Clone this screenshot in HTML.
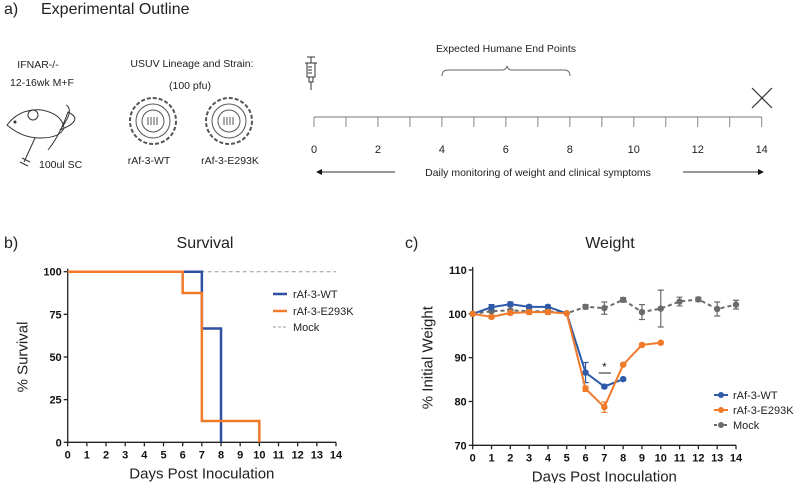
<!DOCTYPE html>
<html><head><meta charset="utf-8"><style>
body{margin:0;background:#fff;}
svg{display:block;font-family:"Liberation Sans",Arial,sans-serif;}
.t{font-family:"Liberation Sans",Arial,sans-serif;}
</style></head><body>
<svg id="fig" width="800" height="483" viewBox="0 0 800 483" xmlns="http://www.w3.org/2000/svg">
<g>
<text x="4" y="14" font-size="16" class="t" fill="#222">a)</text>
<text x="41" y="14" font-size="16" class="t" fill="#222">Experimental Outline</text>
<text x="38" y="68" font-size="10.5" class="t" text-anchor="middle" fill="#222">IFNAR-/-</text>
<text x="42" y="86" font-size="10.5" class="t" text-anchor="middle" fill="#222">12-16wk M+F</text>
<g fill="none" stroke="#333" stroke-width="1">
<path d="M7 125 Q20 108 42 110 Q62 114 64 128 Q60 138 40 138 Q22 138 7 125 Z"/>
<circle cx="33" cy="115" r="5"/>
<circle cx="15" cy="122" r="1" fill="#333"/>
<path d="M60 130 Q75 110 66 105 M60 130 Q85 120 68 112 Q60 135 48 150"/>
</g>
<g stroke="#333" fill="none">
<path d="M35 138 L24 162 M22 158 L30 162 M20 162 L28 166"/>
</g>
<text x="39" y="168" font-size="10.5" class="t" fill="#222">100ul SC</text>
<text x="192" y="67" font-size="10.5" class="t" text-anchor="middle" fill="#222">USUV Lineage and Strain:</text>
<text x="190" y="89" font-size="10.5" class="t" text-anchor="middle" fill="#222">(100 pfu)</text>
<g fill="none" stroke="#555">
<circle cx="153" cy="121" r="23" stroke-dasharray="4 2" stroke-width="2"/><circle cx="153" cy="121" r="17"/><circle cx="153" cy="121" r="11"/><path d="M148 125 v-8 M151 125 v-8 M154 125 v-8 M157 125 v-8"/></g>
<g fill="none" stroke="#555">
<circle cx="229" cy="121" r="23" stroke-dasharray="4 2" stroke-width="2"/><circle cx="229" cy="121" r="17"/><circle cx="229" cy="121" r="11"/><path d="M224 125 v-8 M227 125 v-8 M230 125 v-8 M233 125 v-8"/></g>
<text x="149" y="164" font-size="10.5" class="t" text-anchor="middle" fill="#222">rAf-3-WT</text>
<text x="230" y="164" font-size="10.5" class="t" text-anchor="middle" fill="#222">rAf-3-E293K</text>
<g stroke="#333" fill="none"><path d="M307 57 h8 M311 57 v6 M305 63 h12 M307 63 v14 h8 v-14 M309 77 v5 h4 v-5 M311 82 v8 M308 67 h4 M308 70 h4 M308 73 h4"/></g>
<g stroke="#333" stroke-width="1.2"><path d="M752 88 L772 108 M772 88 L752 108"/></g>
<text x="506" y="52" font-size="10.5" class="t" text-anchor="middle" fill="#222">Expected Humane End Points</text>
<path d="M442 76 Q442 70 448 70 L502 70 Q506 70 507 66 Q508 70 512 70 L564 70 Q570 70 570 76" fill="none" stroke="#666"/>
<g id="timeline"></g>
<text x="538" y="176" font-size="10.5" class="t" text-anchor="middle" fill="#222">Daily monitoring of weight and clinical symptoms</text>
<path d="M318 172 H395 M683 172 H760" stroke="#333"/>
<path d="M316 172 l6 -3 v6 z M764 172 l-6 -3 v6 z" fill="#111"/>
</g>
<text x="4" y="248" font-size="16" class="t" fill="#222">b)</text>
<text x="205" y="248" font-size="16" class="t" text-anchor="middle" fill="#222">Survival</text>
<text x="405" y="248" font-size="16" class="t" fill="#222">c)</text>
<text x="610" y="248" font-size="16" class="t" text-anchor="middle" fill="#222">Weight</text>
<g id="surv"></g>
<g id="wt"></g>
</svg>
<script>
const NS="http://www.w3.org/2000/svg";
const days=[0,1,2,3,4,5,6,7,8,9,10,11,12,13,14];
const survTicks=[0,25,50,75,100];
const survWTx=[0,7,7,8,8];
const survWTy=[100,100,66.7,66.7,0];
const survEx=[0,6,6,7,7,10,10];
const survEy=[100,100,87.5,87.5,12.5,12.5,0];
const survMockX=[0,14];
const survMockY=[100,100];
const wTicks=[70,80,90,100,110];
const wtDays=[0,1,2,3,4,5,6,7,8];
const wtVals=[100,101.5,102.2,101.6,101.6,100.1,86.6,83.4,85.1];
const wtErr=[0,0.6,0.5,0.4,0.4,0,2.3,0.4,0.3];
const eDays=[0,1,2,3,4,5,6,7,8,9,10];
const eVals=[100,99.3,100.2,100.4,100.4,100.1,82.9,78.7,88.4,92.9,93.4];
const eErr=[0,0.4,0.4,0.5,0.5,0,0.6,1.2,0.3,0.3,0.3];
const mDays=[0,1,2,3,4,5,6,7,8,9,10,11,12,13,14];
const mVals=[100,100.6,100.8,100.6,100.6,100.1,101.6,101.3,103.2,100.4,101.2,102.8,103.3,101.1,102.1];
const mErr=[0,0.3,0.3,0.3,0.3,0,0.5,1.4,0.5,1.7,4.2,1.0,0.5,1.6,1.0];
const tlDays=[0,1,2,3,4,5,6,7,8,9,10,11,12,13,14];
const tlLabels=[0,2,4,6,8,10,12,14];

function mk(p,tag,a,txt){const e=document.createElementNS(NS,tag);for(const k in a)e.setAttribute(k,a[k]);if(txt!==undefined)e.textContent=txt;p.appendChild(e);return e;}

const tl=document.getElementById('timeline');
const tx=d=>314+d*(761.7-314)/14;
let e=mk(tl,'line',{x1:tx(0),x2:tx(14),y1:117,y2:117,stroke:'#777','stroke-width':1});


tlDays.forEach(d=>{const t=mk(tl,'line',{x1:tx(d),x2:tx(d),y1:117,y2:127,stroke:'#888','stroke-width':1});

});
tlLabels.forEach(d=>{const t=mk(tl,'text',{x:tx(d),y:153,'font-size':11,'text-anchor':'middle',fill:'#222',class:'t'},String(d));

});

function axes(g,x0,x1,y0,y1,ymin,ymax,ticks,ytitle,name){
  const X=d=>x0+d*(x1-x0)/14, Y=v=>y1-(v-ymin)*(y1-y0)/(ymax-ymin);
  let a=mk(g,'path',{d:`M${x0} ${y0-3} V${y1} H${x1}`,fill:'none',stroke:'#222','stroke-width':1.3});
  
  
  ticks.forEach(v=>{mk(g,'line',{x1:x0-4,x2:x0,y1:Y(v),y2:Y(v),stroke:'#222','stroke-width':1.3});
    const t=mk(g,'text',{x:x0-6,y:Y(v)+4,'font-size':11,'font-weight':'bold','text-anchor':'end',fill:'#111'},String(v));
    
    });
  days.forEach(d=>{mk(g,'line',{x1:X(d),x2:X(d),y1:y1,y2:y1+4,stroke:'#222','stroke-width':1.3});
    const t=mk(g,'text',{x:X(d),y:y1+16,'font-size':11,'font-weight':'bold','text-anchor':'middle',fill:'#111'},String(d));
    
    });
  let xt=mk(g,'text',{x:(x0+x1)/2,y:y1+36,'font-size':15,'text-anchor':'middle',fill:'#222',class:'t'},'Days Post Inoculation');
  
  
  const cy=(y0+y1)/2;
  let yt=mk(g,'text',{x:x0-40,y:cy,'font-size':15,'text-anchor':'middle',fill:'#222',class:'t',transform:`rotate(-90 ${x0-40} ${cy})`},ytitle);
  
  
  return [X,Y];
}
const sg=document.getElementById('surv');
const [SX,SY]=axes(sg,67.7,336,271.7,442.3,0,100,survTicks,'% Survival','survival');
function step(xs,ys,col,nm,dash){const d=xs.map((x,i)=>(i?'L':'M')+SX(x)+' '+SY(ys[i])).join(' ');
  const p=mk(sg,'path',{d:d,fill:'none',stroke:col,'stroke-width':dash?1:2.5,'stroke-dasharray':dash?'4 3':'none'});
  
  }
step(survMockX,survMockY,'#999','survival-mock-line',true);
step(survWTx,survWTy,'#2f4fa0','survival-wt-line');
step(survEx,survEy,'#f07a2a','survival-e293k-line');
const sl=[['rAf-3-WT','#2f4fa0',294],['rAf-3-E293K','#f07a2a',311],['Mock','#999',327]];
sl.forEach(([t,c,y],i)=>{mk(sg,'line',{x1:273,x2:287,y1:y,y2:y,stroke:c,'stroke-width':i==2?1:2.5,'stroke-dasharray':i==2?'3 2':'none'});
  const tt=mk(sg,'text',{x:293,y:y+4,'font-size':11,fill:'#222'},t);
  
  });
const wg=document.getElementById('wt');
const [WX,WY]=axes(wg,472.7,736,270,445.3,70,110,wTicks,'% Initial Weight','weight');
function series(ds,vs,es,col,nm,dash){
  const d=ds.map((x,i)=>(i?'L':'M')+WX(x)+' '+WY(vs[i])).join(' ');
  const p=mk(wg,'path',{d:d,fill:'none',stroke:col,'stroke-width':2,'stroke-dasharray':dash?'4 3':'none'});
  
  
  ds.forEach((x,i)=>{if(es[i]>0){const cx=WX(x),a=WY(vs[i]+es[i]),b=WY(vs[i]-es[i]);
      mk(wg,'path',{d:`M${cx} ${a} V${b} M${cx-3} ${a} h6 M${cx-3} ${b} h6`,stroke:col,'stroke-width':1.2,fill:'none'});}
    const c=mk(wg,'circle',{cx:WX(x),cy:WY(vs[i]),r:3.2,fill:col});
    
    });
}
series(mDays,mVals,mErr,'#6b6b6b','weight-mock',true);
series(wtDays,wtVals,wtErr,'#2f5aa8','weight-wt');
series(eDays,eVals,eErr,'#f07a2a','weight-e293k');
mk(wg,'line',{x1:WX(6.7),x2:WX(7.35),y1:373,y2:373,stroke:'#222','stroke-width':1});
let st=mk(wg,'text',{x:WX(7),y:371,'font-size':12,'text-anchor':'middle',fill:'#222'},'*');


const wl=[['rAf-3-WT','#2f5aa8',395],['rAf-3-E293K','#f07a2a',410],['Mock','#6b6b6b',425]];
wl.forEach(([t,c,y],i)=>{mk(wg,'line',{x1:714,x2:728,y1:y,y2:y,stroke:c,'stroke-width':2,'stroke-dasharray':i==2?'3 2':'none'});
  mk(wg,'circle',{cx:721,cy:y,r:3,fill:c});
  const tt=mk(wg,'text',{x:733,y:y+4,'font-size':11,fill:'#222'},t);
  
  });
</script>
</body></html>
